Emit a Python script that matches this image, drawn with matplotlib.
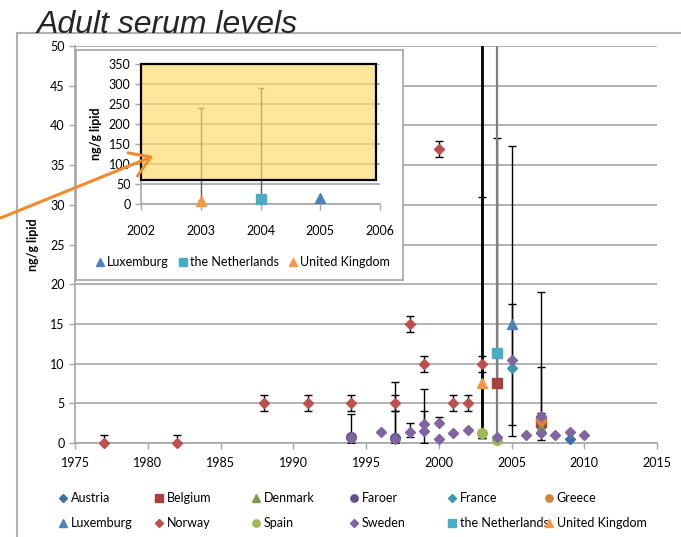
import numpy as np
import matplotlib
matplotlib.use("Agg")
import matplotlib.pyplot as plt
from matplotlib.patches import Rectangle, FancyArrowPatch
from matplotlib.lines import Line2D

plt.rcParams['font.family'] = ['Lato', 'DejaVu Sans']
nan = float('nan')

# ---------------- data ----------------
countries = ["Austria", "Belgium", "Denmark", "Faroer", "France", "Greece",
             "Luxemburg", "Norway", "Spain", "Sweden", "the Netherlands", "United Kingdom"]

austria_years = [2009]
austria_vals = [0.5]
austria_lo = [nan]
austria_hi = [nan]

belgium_years = [2004, 2007]
belgium_vals = [7.6, 2.6]
belgium_lo = [nan, 0.4]
belgium_hi = [38.4, 19.0]

denmark_years = [2007]
denmark_vals = [1.9]
denmark_lo = [nan]
denmark_hi = [3.8]

faroer_years = [1994, 1997]
faroer_vals = [0.8, 0.6]
faroer_lo = [0.0, 0.0]
faroer_hi = [3.6, 4.0]

france_years = [2005]
france_vals = [9.5]
france_lo = [2.3]
france_hi = [17.5]

greece_years = [2007]
greece_vals = [2.9]
greece_lo = [nan]
greece_hi = [9.6]

luxemburg_years = [2005]
luxemburg_vals = [15.0]
luxemburg_lo = [nan]
luxemburg_hi = [nan]

norway_years = [1977, 1982, 1988, 1991, 1994, 1997, 1998, 1999, 2000, 2001, 2002, 2003]
norway_vals = [0.0, 0.0, 5.0, 5.0, 5.0, 5.0, 15.0, 10.0, 37.0, 5.0, 5.0, 10.0]
norway_lo = [0.0, 0.0, 4.0, 4.0, 4.0, 4.0, 14.0, 9.0, 36.0, 4.0, 4.0, 9.0]
norway_hi = [1.0, 1.0, 6.0, 6.0, 6.0, 6.0, 16.0, 11.0, 38.0, 6.0, 6.0, 11.0]

spain_years = [2003, 2004]
spain_vals = [1.2, 0.4]
spain_lo = [0.6, nan]
spain_hi = [31.0, nan]

sweden_years = [1994, 1996, 1997, 1998, 1999, 1999, 2000, 2000, 2001, 2002,
                2004, 2005, 2006, 2007, 2007, 2008, 2009, 2010]
sweden_vals = [0.6, 1.4, 0.5, 1.4, 2.4, 1.5, 2.5, 0.5, 1.3, 1.7,
               0.7, 10.5, 1.0, 3.4, 1.3, 1.0, 1.4, 1.0]
sweden_lo = [nan, nan, 0.0, 0.8, 0.0, nan, nan, nan, nan, nan,
             nan, 0.9, nan, nan, nan, nan, nan, nan]
sweden_hi = [nan, nan, 7.7, 2.5, 6.8, 4.0, 3.3, nan, nan, nan,
             nan, 37.4, nan, nan, nan, nan, nan, nan]

netherlands_years = [2004]
netherlands_vals = [11.3]
netherlands_lo = [0.4]
netherlands_hi = [290.0]

uk_years = [2003]
uk_vals = [7.5]
uk_lo = [0.6]
uk_hi = [240.0]

series = [
    (austria_years, austria_vals, austria_lo, austria_hi),
    (belgium_years, belgium_vals, belgium_lo, belgium_hi),
    (denmark_years, denmark_vals, denmark_lo, denmark_hi),
    (faroer_years, faroer_vals, faroer_lo, faroer_hi),
    (france_years, france_vals, france_lo, france_hi),
    (greece_years, greece_vals, greece_lo, greece_hi),
    (luxemburg_years, luxemburg_vals, luxemburg_lo, luxemburg_hi),
    (norway_years, norway_vals, norway_lo, norway_hi),
    (spain_years, spain_vals, spain_lo, spain_hi),
    (sweden_years, sweden_vals, sweden_lo, sweden_hi),
    (netherlands_years, netherlands_vals, netherlands_lo, netherlands_hi),
    (uk_years, uk_vals, uk_lo, uk_hi),
]

colors = ["#3D6FAB", "#A8403D", "#7E9D45", "#62508A", "#3B9AB2", "#D98339",
          "#4F81BD", "#C0504D", "#9BBB59", "#8064A2", "#4BACC6", "#F79646"]
markers = ["D", "s", "^", "o", "D", "o", "^", "D", "o", "D", "s", "^"]
msizes = [5.5, 7, 7.5, 7, 5.5, 7, 7.5, 5.5, 7, 5.5, 7, 7.5]
err_colors = ["black"] * 10 + ["#7F7F7F", "black"]
err_lw = [1.0] * 10 + [1.6, 2.0]

inset_names = ["Luxemburg", "the Netherlands", "United Kingdom"]

# ---------------- figure ----------------
W, H = 681, 537
fig = plt.figure(figsize=(W / 100, H / 100), dpi=100)

def fx(px):
    return px / W

def fy(py):
    return 1 - py / H

# outer frame lines
fig.add_artist(Line2D([fx(17), fx(17)], [fy(33), 0], color="#B0B0B0", lw=1.5))
fig.add_artist(Line2D([fx(17), 1], [fy(33), fy(33)], color="#B0B0B0", lw=1.5))

fig.text(fx(37), fy(33), "Adult serum levels", fontsize=23, style="italic",
         family=["Liberation Sans", "DejaVu Sans"], color="#262626",
         ha="left", va="baseline")

# main axes
ax = fig.add_axes([fx(75), fy(443), fx(657) - fx(75), fy(46) - fy(443)])
ax.set_xlim(1975, 2015)
ax.set_ylim(0, 50)
ax.set_xticks(np.arange(1975, 2016, 5))
ax.set_yticks(np.arange(0, 51, 5))
ax.yaxis.grid(True, color="#A6A6A6", lw=1.2)
ax.set_axisbelow(True)
for s in ["top", "right"]:
    ax.spines[s].set_visible(False)
for s in ["left", "bottom"]:
    ax.spines[s].set_color("#A6A6A6")
    ax.spines[s].set_linewidth(1.2)
ax.tick_params(axis="both", colors="#A6A6A6", labelcolor="black", labelsize=9,
               length=4, width=1)
ax.tick_params(axis="x", pad=6)
ax.set_ylabel("ng/g lipid", fontsize=9, fontweight="bold", labelpad=8)

for i, (yrs, vals, lo, hi) in enumerate(series):
    yrs = np.array(yrs, float)
    vals = np.array(vals, float)
    lo = np.array(lo, float)
    hi = np.array(hi, float)
    has = ~(np.isnan(lo) & np.isnan(hi))
    if has.any():
        l = np.where(np.isnan(lo), vals, lo)[has]
        h = np.where(np.isnan(hi), vals, hi)[has]
        v = vals[has]
        ax.errorbar(yrs[has], v, yerr=[v - l, h - v], fmt="none",
                    ecolor=err_colors[i], elinewidth=err_lw[i], capsize=3,
                    capthick=1, zorder=3, clip_on=True)
    ax.plot(yrs, vals, linestyle="none", marker=markers[i], ms=msizes[i],
            color=colors[i], mec=colors[i], zorder=4, clip_on=False)

# legend: one small legend per column, placed at the reference positions
handles = [Line2D([], [], linestyle="none", marker=markers[i], ms=msizes[i] * 0.75,
                  color=colors[i]) for i in range(12)]
col_x = [57, 153, 250, 348, 446, 543]
for c in range(6):
    idx = [c, c + 6]
    fig.legend([handles[i] for i in idx], [countries[i] for i in idx],
               ncol=1, loc="upper left", bbox_to_anchor=(fx(col_x[c]), fy(492)),
               frameon=False, fontsize=9, handletextpad=0.1, handlelength=1.0,
               borderaxespad=0, borderpad=0, labelspacing=1.05)

# inset frame
frame = fig.add_axes([fx(76), fy(280), fx(403) - fx(76), fy(50) - fy(280)], zorder=5)
frame.set_xticks([]); frame.set_yticks([])
frame.set_facecolor("white")
for s in frame.spines.values():
    s.set_color("#A6A6A6")
    s.set_linewidth(1.2)

ins = fig.add_axes([fx(141), fy(204), fx(380) - fx(141), fy(64) - fy(204)], zorder=6)
ins.set_facecolor("none")
ins.set_xlim(2002, 2006)
ins.set_ylim(0, 350)
ins.set_xticks(np.arange(2002, 2007, 1))
ins.set_yticks(np.arange(0, 351, 50))
ins.yaxis.grid(True, color="#A6A6A6", lw=1.2)
ins.set_axisbelow(True)
for s in ["top", "right"]:
    ins.spines[s].set_visible(False)
for s in ["left", "bottom"]:
    ins.spines[s].set_color("#A6A6A6")
    ins.spines[s].set_linewidth(1.2)
ins.tick_params(axis="both", colors="#A6A6A6", labelcolor="black", labelsize=9,
                length=4, width=1)
ins.tick_params(axis="x", pad=11)
ins.set_ylabel("ng/g lipid", fontsize=9, fontweight="bold", labelpad=5)

inset_handles = []
for name in inset_names:
    i = countries.index(name)
    yrs, vals, lo, hi = series[i]
    yrs = np.array(yrs, float); vals = np.array(vals, float)
    hi = np.array(hi, float)
    if name != "Luxemburg":
        ins.errorbar(yrs, vals, yerr=[np.zeros_like(vals), hi - vals], fmt="none",
                     ecolor="#595959", elinewidth=1.0, capsize=2, capthick=1, zorder=3)
    ins.plot(yrs, vals, linestyle="none", marker=markers[i], ms=msizes[i],
             color=colors[i], zorder=4, clip_on=False)
    inset_handles.append(Line2D([], [], linestyle="none", marker=markers[i],
                                ms=msizes[i] * 0.75, color=colors[i]))

ins.add_patch(Rectangle((2002, 60), 3.93, 290, facecolor="#FFD966", alpha=0.65,
                        edgecolor="none", zorder=5, clip_on=False))
ins.add_patch(Rectangle((2002, 60), 3.93, 290, facecolor="none",
                        edgecolor="black", lw=1.6, zorder=6, clip_on=False))

fig.legend(inset_handles, inset_names, ncol=3, loc="center",
           bbox_to_anchor=(fx(242), fy(262)), frameon=False, fontsize=9,
           handletextpad=0.1, handlelength=1.0, columnspacing=0.6)

# arrow
arr = FancyArrowPatch((fx(-2), fy(219)), (fx(156), fy(155)),
                      transform=fig.transFigure,
                      arrowstyle="->,head_length=0.7,head_width=0.45",
                      mutation_scale=20, color="#F28A2E", lw=2.2, zorder=20)
fig.add_artist(arr)

fig.savefig("out.png", dpi=100)
